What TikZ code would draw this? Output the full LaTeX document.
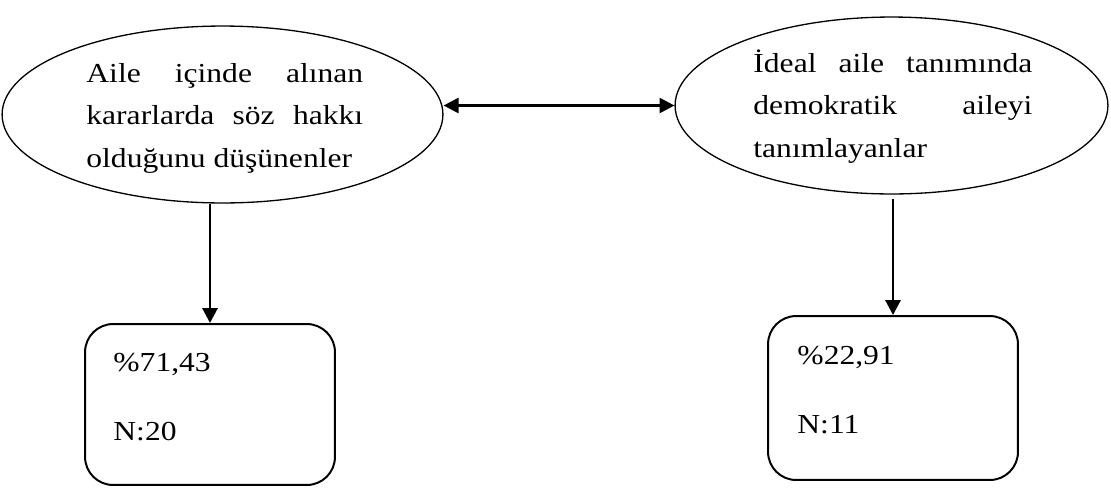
\documentclass[tikz,border=0pt]{standalone}
\usepackage{fontspec}
\setmainfont[FakeStretch=1.15]{Liberation Serif}
\usepackage{tikz}
\usetikzlibrary{
	arrows.meta,
	positioning,
	shapes.geometric
}
\hyphenpenalty=10000
\hbadness=10000

\begin{document}
\begin{tikzpicture}[x=0.016cm,y=-0.016cm,>={Triangle[length=6.8pt,width=6.8pt]},
	every node/.append style={font=\fontsize{12.5}{19.4}\selectfont,inner sep=0pt}]
			
			\useasboundingbox (0,0) rectangle (1111,487);
			
			\node[draw,ellipse,line width=0.6pt,minimum width=7.056cm,minimum height=2.832cm] (ak) at (222.5,114.5) {};
			\node[anchor=north west,text width=4.43cm,align=justify] (akt) at (86,52)
			{\strut Aile içinde alınan\linebreak kararlarda söz hakkı\linebreak olduğunu düşünenler};
			
			\node[draw,ellipse,line width=0.6pt,minimum width=6.928cm,minimum height=2.832cm] (id) at (891.5,105.5) {};
			\node[anchor=north west,text width=4.464cm,align=justify] (idt) at (753,42)
			{\strut İdeal aile tanımında\linebreak demokratik aileyi\linebreak tanımlayanlar};
			
			\node[draw,rounded corners=0.45cm,line width=0.9pt,minimum width=4cm,minimum height=2.576cm] (p1) at (210,404.5) {};
			\node[anchor=base west] (p1a) at (113,371.7) {\%71,43};
			\node[anchor=base west] (p1b) at (113,440) {N:20};
			
			\node[draw,rounded corners=0.45cm,line width=0.9pt,minimum width=4cm,minimum height=2.624cm] (p2) at (893,398) {};
			\node[anchor=base west] (p2a) at (797,364) {\%22,91};
			\node[anchor=base west] (p2b) at (797,433) {N:11};
			
			\draw[<->,line width=1.3pt] (ak.east |- id.west)--(id.west);
			\draw[->,line width=1.3pt] (p1.north |- ak.south)--(p1.north);
			\draw[->,line width=1.3pt,shorten <=2pt] (p2.north |- id.south)--(p2.north);
			
		\end{tikzpicture}
\end{document}
